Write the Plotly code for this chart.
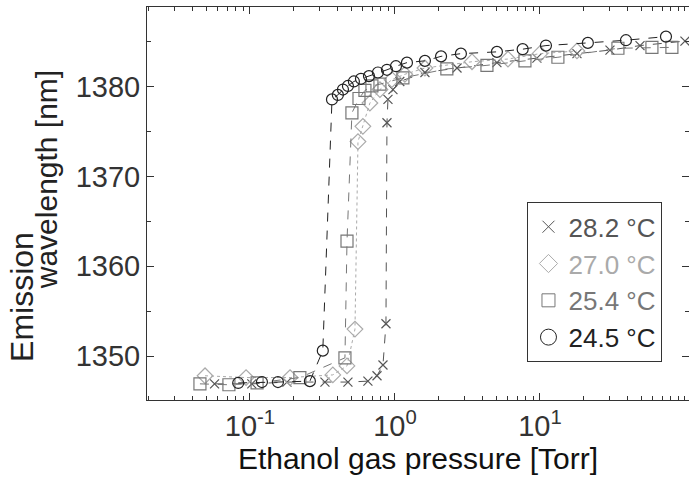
import plotly.graph_objects as go

# 24.5 °C (circles)
p_245 = [0.083, 0.121, 0.156, 0.259, 0.318, 0.368, 0.404, 0.438, 0.474, 0.521, 0.583,
         0.662, 0.763, 0.881, 1.016, 1.21, 1.61, 2.08, 2.85, 5.05, 7.6, 11.0, 21.4, 39.2, 74.0]
w_245 = [1347.0, 1347.1, 1347.1, 1347.2, 1350.6, 1378.6, 1379.1, 1379.7, 1380.1, 1380.6, 1380.9,
         1381.2, 1381.6, 1381.9, 1382.3, 1382.7, 1382.9, 1383.4, 1383.7, 1383.9, 1384.2, 1384.6,
         1384.9, 1385.2, 1385.6]

# 25.4 °C (squares)
p_254 = [0.0452, 0.0716, 0.112, 0.221, 0.452, 0.467, 0.505, 0.565, 0.621, 0.694, 0.788,
         1.135, 2.28, 4.31, 7.88, 13.3, 34.5, 59.2, 81.3]
w_254 = [1346.9, 1346.8, 1347.0, 1347.6, 1349.8, 1362.8, 1377.1, 1378.7, 1379.6, 1380.1, 1380.3,
         1381.0, 1382.0, 1382.4, 1382.9, 1383.3, 1384.3, 1384.4, 1384.4]

# 27.0 °C (diamonds)
p_270 = [0.049, 0.094, 0.189, 0.373, 0.467, 0.530, 0.556, 0.601, 0.672, 0.788, 0.953,
         1.17, 1.61, 3.40, 6.02, 10.0, 18.0]
w_270 = [1347.8, 1347.6, 1347.6, 1347.9, 1348.9, 1353.0, 1373.9, 1375.6, 1378.2, 1379.7, 1380.8,
         1381.4, 1382.1, 1382.8, 1383.1, 1383.7, 1384.0]

# 28.2 °C (crosses)
p_282 = [0.057, 0.103, 0.180, 0.329, 0.474, 0.651, 0.752, 0.827, 0.867, 0.881, 0.895, 0.969,
         1.08, 1.61, 2.68, 5.05, 9.53, 18.0, 30.4, 49.0, 100.0]
w_282 = [1346.9, 1346.9, 1347.1, 1347.1, 1347.1, 1347.2, 1347.8, 1349.0, 1353.6, 1376.0, 1378.6,
         1379.7, 1380.6, 1381.6, 1382.1, 1382.7, 1383.2, 1383.7, 1384.1, 1384.6, 1385.1]

labels = ["28.2 °C", "27.0 °C", "25.4 °C", "24.5 °C"]
x_tickvals = [0.1, 1, 10]
x_ticktext = ["10<sup>-1</sup>", "10<sup>0</sup>", "10<sup>1</sup>"]
FONT = "Liberation Sans, Arial, sans-serif"

fig = go.Figure()
series = [
    (p_282, w_282, labels[0], "#555555", "x-thin-open", 9, "dash"),
    (p_270, w_270, labels[1], "#aaaaaa", "diamond-open", 12, "dot"),
    (p_254, w_254, labels[2], "#777777", "square-open", 12, "dash"),
    (p_245, w_245, labels[3], "#222222", "circle-open", 11, "dash"),
]
for x, y, name, col, sym, sz, dash in series:
    fig.add_trace(go.Scatter(
        x=x, y=y, mode="lines+markers", showlegend=False, legendgroup=name,
        line=dict(color=col, width=1, dash=dash),
        marker=dict(symbol=sym, size=sz, color=col, line=dict(color=col, width=1.2)),
    ))
# legend entries (marker glyph only, as in the reference)
leg_sizes = {"x-thin-open": 12, "diamond-open": 14, "square-open": 13, "circle-open": 20}
for x, y, name, col, sym, sz, dash in series:
    fig.add_trace(go.Scatter(
        x=[None], y=[None], mode="markers", legendgroup=name,
        name=f'<span style="color:{col}">{name}</span>',
        marker=dict(symbol=sym, size=leg_sizes[sym], color=col, line=dict(color=col, width=1)),
    ))

axis_common = dict(
    showline=True, linecolor="#333333", linewidth=1, mirror="allticks",
    ticks="inside", ticklen=7, tickcolor="#333333", showgrid=False, zeroline=False,
    tickfont=dict(family=FONT, size=29, color="#333333"),
)
fig.update_xaxes(
    type="log", range=[-1.710, 2.028], tickvals=x_tickvals, ticktext=x_ticktext,
    minor=dict(ticks="inside", ticklen=4, dtick="D1", tickcolor="#333333", showgrid=False),
    title=dict(text="Ethanol gas pressure [Torr]", font=dict(family=FONT, size=30, color="#111111"),
               standoff=6),
    **axis_common,
)
fig.update_yaxes(
    range=[1345.1, 1388.9], dtick=10, tick0=1350,
    minor=dict(ticks="inside", ticklen=4, dtick=5, tickcolor="#333333", showgrid=False),
    **axis_common,
)
fig.add_annotation(text="Emission", xref="paper", yref="paper", x=-0.232, y=0.263,
                   textangle=-90, showarrow=False, xanchor="center", yanchor="middle",
                   font=dict(family=FONT, size=32, color="#222222"))
fig.add_annotation(text="wavelength [nm]", xref="paper", yref="paper", x=-0.185, y=0.561,
                   textangle=-90, showarrow=False, xanchor="center", yanchor="middle",
                   font=dict(family=FONT, size=30, color="#222222"))

fig.update_layout(
    width=689, height=490,
    margin=dict(l=147, r=0, t=7, b=90),
    paper_bgcolor="white", plot_bgcolor="white",
    legend=dict(x=0.702, y=0.503, xanchor="left", yanchor="top",
                bordercolor="#333333", borderwidth=1, bgcolor="white",
                font=dict(family=FONT, size=26), traceorder="normal",
                itemwidth=30, tracegroupgap=0),
    showlegend=True,
)
fig.write_html("out.html")
